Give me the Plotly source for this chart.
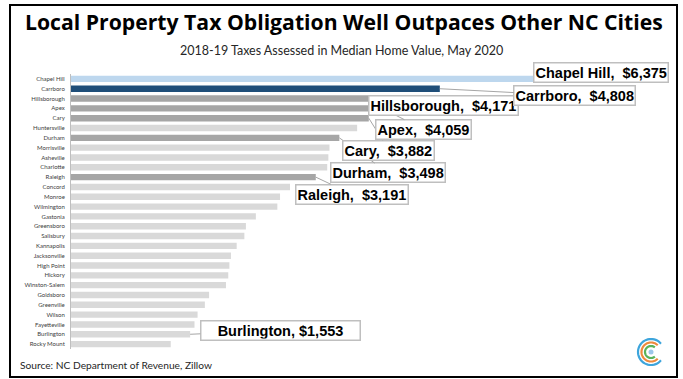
import numpy as np
import plotly.graph_objects as go

cities = ["Chapel Hill", "Carrboro", "Hillsborough", "Apex", "Cary", "Huntersville",
          "Durham", "Morrisville", "Asheville", "Charlotte", "Raleigh", "Concord",
          "Monroe", "Wilmington", "Gastonia", "Greensboro", "Salisbury", "Kannapolis",
          "Jacksonville", "High Point", "Hickory", "Winston-Salem", "Goldsboro",
          "Greenville", "Wilson", "Fayetteville", "Burlington", "Rocky Mount"]
taxes = [6375, 4808, 4171, 4059, 3882, 3730, 3498, 3370, 3355, 3340, 3191, 2855,
         2725, 2690, 2410, 2280, 2260, 2160, 2085, 2065, 2050, 2020, 1800, 1745,
         1650, 1610, 1553, 1300]

highlight_blue_light = ["Chapel Hill"]
highlight_blue_dark = ["Carrboro"]
highlight_gray = ["Hillsborough", "Apex", "Cary", "Durham", "Raleigh"]

# callouts: city, label text, pixel offset of box centre from bar end, fixed width
callouts = [
    ("Burlington", "Burlington, $1,553", 90, -4, 156),
    ("Raleigh", "Raleigh,\u00a0 $3,191", 36, 17, None),
    ("Durham", "Durham,\u00a0 $3,498", 49, 35, None),
    ("Cary", "Cary,\u00a0 $3,882", 20, 32, None),
    ("Apex", "Apex,\u00a0 $4,059", 41, 21, None),
    ("Hillsborough", "Hillsborough,\u00a0 $4,171", 53, 7, None),
    ("Carrboro", "Carrboro,\u00a0 $4,808", 135, 7, None),
    ("Chapel Hill", "Chapel Hill,\u00a0 $6,375", 41, -6, None),
]

colors = []
for c in cities:
    if c in highlight_blue_light:
        colors.append("#BDD7EE")
    elif c in highlight_blue_dark:
        colors.append("#1F4E79")
    elif c in highlight_gray:
        colors.append("#A6A6A6")
    else:
        colors.append("#D9D9D9")

W, H = 683, 379
ML, MR, MT, MB = 71, 29, 74, 30
PW, PH = W - ML - MR, H - MT - MB

fig = go.Figure(go.Bar(
    x=taxes, y=cities, orientation="h", marker=dict(color=colors, line=dict(width=0)),
    width=0.65, hoverinfo="x+y"))

val = dict(zip(cities, taxes))
for city, text, ax, ay, w in callouts:
    a = dict(x=val[city], y=city, xref="x", yref="y", text="<b>" + text + "</b>",
             showarrow=True, arrowhead=0, arrowwidth=1, arrowcolor="#A6A6A6",
             ax=ax, ay=ay, bgcolor="white", bordercolor="#BFBFBF", borderwidth=1.5,
             borderpad=1, font=dict(family="Liberation Sans, Arial", size=14.5, color="black"))
    if w:
        a["width"] = w
    fig.add_annotation(**a)

def px2paper(px, py):
    return (px - ML) / PW, (H - MB - py) / PH

tx, ty = px2paper(343.5, 21)
fig.add_annotation(x=tx, y=ty, xref="paper", yref="paper", showarrow=False,
                   text="<b>Local Property Tax Obligation Well Outpaces Other NC Cities</b>",
                   font=dict(family="Open Sans", size=21.2, color="black"), xanchor="center", yanchor="middle")
sx, sy = px2paper(341.5, 51)
fig.add_annotation(x=sx, y=sy, xref="paper", yref="paper", showarrow=False,
                   text="2018-19 Taxes Assessed in Median Home Value, May 2020",
                   font=dict(family="Lato", size=12.5, color="#262626"), xanchor="center", yanchor="middle")
ox, oy = px2paper(18, 365)
fig.add_annotation(x=ox, y=oy, xref="paper", yref="paper", showarrow=False,
                   text="Source: NC Department of Revenue, Zillow",
                   font=dict(family="Lato", size=10.2, color="#262626"), xanchor="left", yanchor="middle")

# frame
x0, y0 = px2paper(10, 377)
x1, y1 = px2paper(677, 5)
fig.add_shape(type="rect", xref="paper", yref="paper", x0=x0, y0=y0, x1=x1, y1=y1,
              line=dict(color="black", width=2), fillcolor="rgba(0,0,0,0)", layer="above")

# logo (concentric C arcs)
def arc_path(cx, cy, r, a0, a1, n=40):
    pts = []
    for t in np.linspace(np.radians(a0), np.radians(a1), n):
        px, py = cx + r * np.cos(t), cy - r * np.sin(t)
        pts.append(px2paper(px, py))
    return "M " + " L ".join(f"{p[0]:.5f},{p[1]:.5f}" for p in pts)

lcx, lcy = 651, 352
for r, col, a0, a1 in [(13, "#3DA5DC", 40, 320), (9.5, "#EE8A3C", 45, 315), (6, "#5BB35B", 50, 310)]:
    fig.add_shape(type="path", xref="paper", yref="paper", path=arc_path(lcx, lcy, r, a0, a1),
                  line=dict(color=col, width=2.2))
dx0, dy0 = px2paper(lcx - 2.5, lcy + 2.5)
dx1, dy1 = px2paper(lcx + 2.5, lcy - 2.5)
fig.add_shape(type="circle", xref="paper", yref="paper", x0=dx0, y0=dy0, x1=dx1, y1=dy1,
              fillcolor="#9CC7EB", line=dict(width=0))

fig.update_layout(
    width=W, height=H, margin=dict(l=ML, r=MR, t=MT, b=MB),
    paper_bgcolor="white", plot_bgcolor="white", showlegend=False,
    xaxis=dict(range=[0, 7600], showgrid=False, zeroline=False, showticklabels=False,
               showline=False, fixedrange=True),
    yaxis=dict(range=[len(cities) - 0.5, -0.5], showgrid=False, zeroline=False,
               showline=True, linecolor="#BFBFBF", linewidth=1, ticks="",
               ticklabelstandoff=4,
               tickfont=dict(family="Lato", size=6, color="#404040"), fixedrange=True),
)

fig.write_html("out.html", config={"displayModeBar": False},
               post_script="document.body.style.margin='0';document.body.style.overflow='hidden';")
